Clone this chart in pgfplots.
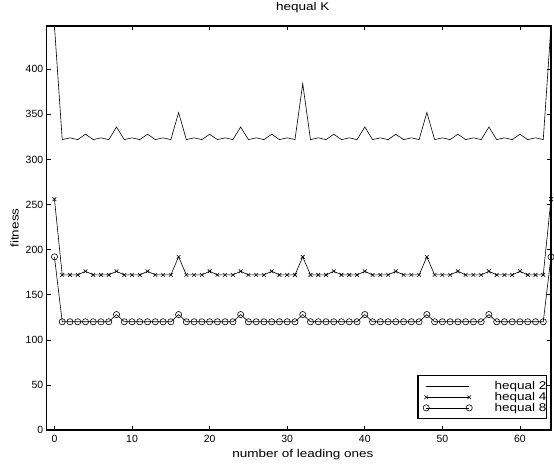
\documentclass[border=0pt]{standalone}
\usepackage{fontspec}
\setmainfont{Liberation Sans}
\newfontfamily\lblfont[FakeStretch=1.2]{Liberation Sans}
\usepackage{pgfplots}
\usepackage{pgfplotstable}
\pgfplotsset{compat=1.18}
\pgfplotstableread{
x h2 h4 h8
0 448 256 192
1 322 172 120
2 324 172 120
3 322 172 120
4 328 176 120
5 322 172 120
6 324 172 120
7 322 172 120
8 336 176 128
9 322 172 120
10 324 172 120
11 322 172 120
12 328 176 120
13 322 172 120
14 324 172 120
15 322 172 120
16 352 192 128
17 322 172 120
18 324 172 120
19 322 172 120
20 328 176 120
21 322 172 120
22 324 172 120
23 322 172 120
24 336 176 128
25 322 172 120
26 324 172 120
27 322 172 120
28 328 176 120
29 322 172 120
30 324 172 120
31 322 172 120
32 384 192 128
33 322 172 120
34 324 172 120
35 322 172 120
36 328 176 120
37 322 172 120
38 324 172 120
39 322 172 120
40 336 176 128
41 322 172 120
42 324 172 120
43 322 172 120
44 328 176 120
45 322 172 120
46 324 172 120
47 322 172 120
48 352 192 128
49 322 172 120
50 324 172 120
51 322 172 120
52 328 176 120
53 322 172 120
54 324 172 120
55 322 172 120
56 336 176 128
57 322 172 120
58 324 172 120
59 322 172 120
60 328 176 120
61 322 172 120
62 324 172 120
63 322 172 120
64 448 256 192
}\datatable
\begin{document}
\begin{tikzpicture}
\useasboundingbox (-46.7bp,-35bp) rectangle (507.3bp,430bp);
\begin{axis}[
  at={(0,0)}, anchor=south west,
  scale only axis, width=504.3bp, height=404bp,
  xmin=-1, xmax=64, ymin=0, ymax=448,
  xtick={0,10,...,60}, ytick={0,50,...,400},
  tick align=inside, major tick length=4.5bp,
  axis line style={line width=1.2bp},
  every tick/.style={black, line width=0.6bp},
  /pgf/number format/assume math mode=true,
  tick label style={font=\fontsize{10.5}{12}\selectfont},
  xticklabel style={yshift=-1.5bp},
  title={hequal K},
  title style={font=\lblfont\fontsize{11.3}{13}\selectfont, at={(axis description cs:0.5,1)}, anchor=base, yshift=10bp, xshift=4bp},
  xlabel={number of leading ones},
  xlabel style={font=\lblfont\fontsize{11.3}{13}\selectfont, at={(axis description cs:0.5,0)}, anchor=base, yshift=-27.5bp, xshift=4bp},
  ylabel={fitness},
  ylabel style={font=\lblfont\fontsize{11.3}{13}\selectfont, at={(axis description cs:-0.0635,0.5)}, anchor=center, rotate=0},
  legend style={at={(rel axis cs:0.992,0.0265)}, anchor=south east, draw=black, line width=1.2bp,
    font=\lblfont\fontsize{11.3}{13}\selectfont, inner xsep=0bp, inner ysep=5bp, row sep=-1bp,
    nodes={inner xsep=0bp, inner ysep=1bp}},
  legend cell align=left,
  legend image code/.code={\draw[#1] plot coordinates {(8bp,0bp) (51bp,0bp)}; \path (0bp,0bp) (76bp,0bp);},
]
\addplot[black, line width=0.6bp, no marks] table[x=x, y=h2] {\datatable};
\addlegendentry{hequal 2}
\addplot[black, line width=0.6bp, mark=x, mark size=2.6bp, mark options={solid}] table[x=x, y=h4] {\datatable};
\addlegendentry{hequal 4}
\addplot[black, line width=0.6bp, mark=o, mark size=3.1bp, mark options={solid}] table[x=x, y=h8] {\datatable};
\addlegendentry{hequal 8}
\end{axis}
\end{tikzpicture}
\end{document}
